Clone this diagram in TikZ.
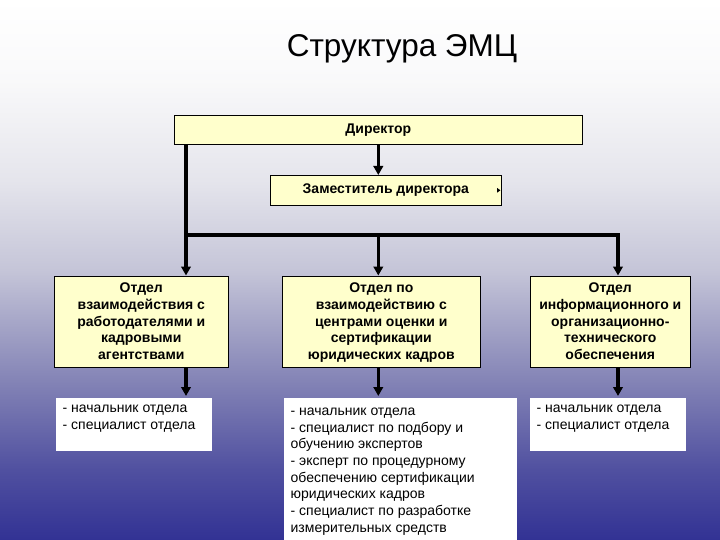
\documentclass[tikz,border=0pt]{standalone}
\usepackage{fontspec}
\setmainfont{Liberation Sans}
\usetikzlibrary{positioning,arrows.meta}
\definecolor{boxyellow}{RGB}{255,255,204}
\definecolor{bgA}{RGB}{50,50,148}
\definecolor{bgB}{RGB}{80,80,160}
\definecolor{bgC}{RGB}{132,132,182}
\definecolor{bgD}{RGB}{197,197,216}
\definecolor{bgE}{RGB}{229,229,236}
\definecolor{bgF}{RGB}{249,249,250}
\pgfdeclareverticalshading{slidebg}{100bp}{color(0bp)=(bgA); color(25bp)=(bgA); color(31.5bp)=(bgB);
  color(39.8bp)=(bgC); color(50bp)=(bgD); color(58.3bp)=(bgE); color(67.6bp)=(bgF);
  color(75bp)=(white); color(100bp)=(white)}

\begin{document}
\begin{tikzpicture}[x=1pt,y=-1pt,>={Triangle[length=9pt,width=9.5pt]},line width=3.3pt,
                    head node/.style={draw,line width=0.6pt,fill=boxyellow,anchor=north west,inner sep=0pt,
                                      font=\bfseries\fontsize{14}{16.8}\selectfont,align=center},
                    staff node/.style={fill=white,anchor=north west,inner xsep=7pt,inner ysep=3.5pt,
                                       font=\fontsize{14}{16.7}\selectfont}]

  \shade[shading=slidebg] (0,0) rectangle (720,540);
  \useasboundingbox (0,0) rectangle (720,540);

  \node[anchor=base,font=\fontsize{31.5}{36}\selectfont] (title) at (402,57) {Структура ЭМЦ};

  \node[head node,minimum width=408,minimum height=29] (dir) at (174,115) {Директор};
  \node[head node,minimum width=231,minimum height=30] (zam) at (270,175) {Заместитель директора};

  \node[head node,minimum width=174,minimum height=91] (dept1) at (54,275.5)
    {Отдел\\взаимодействия с\\работодателями и\\кадровыми\\агентствами};
  \node[head node,minimum width=198,minimum height=91] (dept2) at (282,275.5)
    {Отдел по\\взаимодействию с\\центрами оценки и\\сертификации\\\raisebox{0pt}[\height][0pt]{юридических кадров}};
  \node[head node,minimum width=160,minimum height=91] (dept3) at (530,275.5)
    {Отдел\\информационного и\\организационно-\\технического\\обеспечения};

  \node[staff node] (staff1) at (54,396)
    {\parbox[t][46.5pt][t]{142pt}{\strut- начальник отдела\\- специалист отдела}};
  \node[staff node,inner ysep=6pt] (staff2) at (282,396)
    {\parbox[t][138pt][t]{219pt}{\strut- начальник отдела\\- специалист по подбору и\\обучению экспертов\\- эксперт по процедурному\\обеспечению сертификации\\юридических кадров\\- специалист по разработке\\измерительных средств}};
  \node[staff node] (staff3) at (528,396)
    {\parbox[t][46.5pt][t]{142pt}{\strut- начальник отдела\\- специалист отдела}};

  \coordinate (bus west) at (186,235);
  \coordinate (bus east) at (618,235);

  \draw[->] (dir.south) -- (dir.south |- zam.north);
  \draw[->] (dir.south -| bus west) -- (bus west |- dept1.north);
  \draw[->] (bus west) -- (bus east) -- (bus east |- dept3.north);
  \draw[->] (bus west -| dir.south) -- (dir.south |- dept2.north);

  \draw[->] (dept1.south -| bus west) -- (bus west |- staff1.north);
  \draw[->] (dept2.south -| dir.south) -- (dir.south |- staff2.north);
  \draw[->] (dept3.south -| bus east) -- (bus east |- staff3.north);

  \draw[-{Triangle[length=3.3pt,width=4.5pt]},line width=0.8pt] ([xshift=-4.5pt]zam.east) -- ([xshift=-1.2pt]zam.east);
\end{tikzpicture}
\end{document}
